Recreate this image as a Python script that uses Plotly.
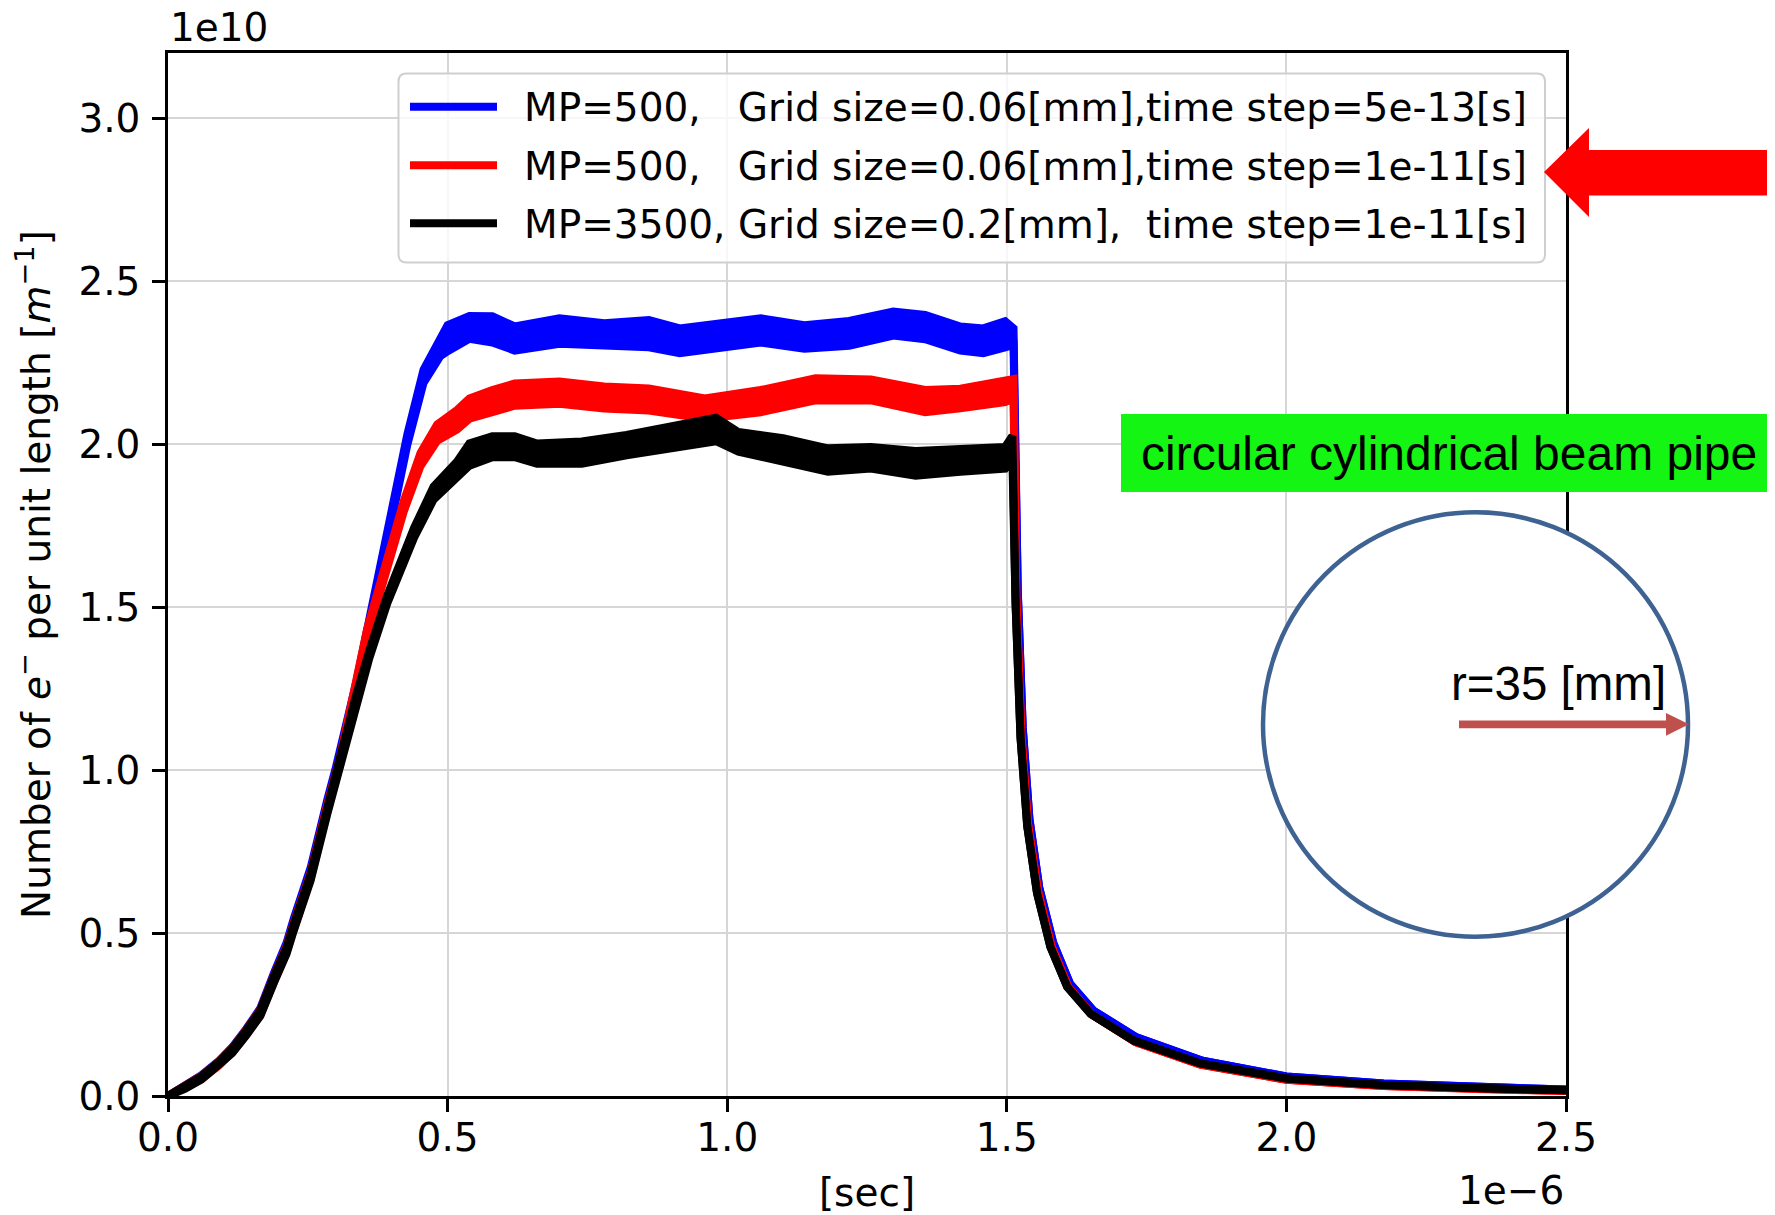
import plotly.graph_objects as go

# time in units of 1e-6 s, values in units of 1e10 m^-1
# each series: time, band centre (mid) and half-width of the fast oscillation (hw)
blue_t = [0, 0.03, 0.06, 0.09, 0.115, 0.14, 0.165, 0.19, 0.212, 0.225, 0.255, 0.285, 0.2995, 0.338,
          0.368, 0.398, 0.428, 0.457, 0.487, 0.5, 0.539, 0.58, 0.62, 0.70, 0.78, 0.86, 0.915, 1.0,
          1.06, 1.138, 1.218, 1.297, 1.354, 1.417, 1.458, 1.497, 1.512, 1.5196, 1.5285, 1.5405,
          1.558, 1.583, 1.613, 1.655, 1.732, 1.85, 2.0, 2.174, 2.353, 2.5]
blue_mid = [0, 0.028, 0.059, 0.1, 0.143, 0.198, 0.26, 0.37, 0.46, 0.535, 0.69, 0.9, 0.991, 1.267,
            1.523, 1.779, 2.014, 2.208, 2.30, 2.325, 2.358, 2.352, 2.324, 2.347, 2.337, 2.339, 2.317, 2.336,
            2.349, 2.329, 2.34, 2.37, 2.359, 2.324, 2.317, 2.337, 2.33, 1.55, 1.13, 0.85,
            0.64, 0.47, 0.345, 0.262, 0.18, 0.108, 0.06, 0.038, 0.027, 0.02]
blue_hw = [0, 0.004, 0.005, 0.006, 0.007, 0.008, 0.009, 0.01, 0.01, 0.01, 0.01, 0.01, 0.012, 0.012,
           0.012, 0.014, 0.016, 0.02, 0.03, 0.04, 0.035, 0.04, 0.037, 0.039, 0.034, 0.042, 0.038, 0.036,
           0.037, 0.036, 0.038, 0.037, 0.037, 0.037, 0.038, 0.04, 0.025, 0, 0, 0,
           0, 0, 0, 0, 0, 0, 0, 0, 0, 0]

red_t = [0, 0.03, 0.06, 0.09, 0.115, 0.14, 0.165, 0.19, 0.212, 0.225, 0.255, 0.285, 0.308, 0.356,
         0.392, 0.4217, 0.4516, 0.4814, 0.517, 0.539, 0.58, 0.62, 0.70, 0.78, 0.86, 0.96, 1.06, 1.158,
         1.257, 1.354, 1.417, 1.497, 1.512, 1.517, 1.526, 1.538, 1.556, 1.58, 1.61, 1.652, 1.73,
         1.846, 2.0, 2.174, 2.353, 2.5]
red_mid = [0, 0.027, 0.057, 0.098, 0.14, 0.196, 0.256, 0.362, 0.45, 0.522, 0.676, 0.885, 1.03, 1.42,
           1.646, 1.81, 1.953, 2.035, 2.075, 2.109, 2.132, 2.152, 2.158, 2.143, 2.137, 2.109, 2.132, 2.168,
           2.166, 2.132, 2.14, 2.163, 2.17, 1.53, 1.11, 0.835, 0.628, 0.46, 0.335, 0.25, 0.165,
           0.096, 0.05, 0.031, 0.021, 0.015]
red_hw = [0, 0.004, 0.005, 0.006, 0.007, 0.008, 0.009, 0.01, 0.01, 0.01, 0.01, 0.01, 0.012, 0.012,
          0.014, 0.016, 0.02, 0.025, 0.03, 0.031, 0.034, 0.034, 0.034, 0.034, 0.034, 0.031, 0.034, 0.034,
          0.032, 0.034, 0.03, 0.034, 0.03, 0, 0, 0, 0, 0, 0, 0, 0,
          0, 0, 0, 0, 0]

black_t = [0, 0.03, 0.06, 0.09, 0.115, 0.14, 0.165, 0.19, 0.212, 0.225, 0.255, 0.285, 0.31, 0.335,
           0.36, 0.392, 0.44, 0.475, 0.517, 0.539, 0.58, 0.62, 0.66, 0.74, 0.82, 0.90, 0.98, 1.02,
           1.10, 1.18, 1.257, 1.337, 1.417, 1.497, 1.51, 1.5156, 1.5245, 1.5365, 1.554, 1.578,
           1.608, 1.65, 1.727, 1.846, 2.0, 2.174, 2.353, 2.5]
black_mid = [0, 0.026, 0.056, 0.097, 0.139, 0.194, 0.254, 0.36, 0.446, 0.518, 0.671, 0.876, 1.045, 1.21,
             1.355, 1.523, 1.728, 1.85, 1.922, 1.968, 1.992, 1.992, 1.971, 1.974, 1.997, 2.02, 2.045, 2.007,
             1.981, 1.951, 1.958, 1.941, 1.951, 1.958, 1.99, 1.514, 1.10, 0.828, 0.623, 0.457,
             0.335, 0.252, 0.17, 0.10, 0.054, 0.034, 0.024, 0.018]
black_hw = [0, 0.004, 0.005, 0.006, 0.007, 0.008, 0.009, 0.01, 0.01, 0.01, 0.01, 0.01, 0.012, 0.012,
            0.012, 0.012, 0.015, 0.02, 0.025, 0.034, 0.032, 0.032, 0.031, 0.034, 0.031, 0.034, 0.036, 0.03,
            0.037, 0.036, 0.033, 0.038, 0.036, 0.033, 0.035, 0, 0, 0, 0, 0,
            0, 0, 0, 0, 0, 0, 0, 0]

legend_labels = [
    "MP=500,\u00a0\u00a0\u00a0Grid size=0.06[mm],time step=5e-13[s]",
    "MP=500,\u00a0\u00a0\u00a0Grid size=0.06[mm],time step=1e-11[s]",
    "MP=3500, Grid size=0.2[mm],\u00a0\u00a0time step=1e-11[s]",
]
colors = ["#0000ff", "#ff0000", "#000000"]
x_ticks = [0.0, 0.5, 1.0, 1.5, 2.0, 2.5]
y_ticks = [0.0, 0.5, 1.0, 1.5, 2.0, 2.5, 3.0]
y_title = "Number of <i>e</i><sup>\u2212</sup> per unit length [<i>m</i><sup>\u22121</sup>]"

series = [(blue_t, blue_mid, blue_hw), (red_t, red_mid, red_hw), (black_t, black_mid, black_hw)]
for t, m, h in series:
    assert len(t) == len(m) == len(h), (len(t), len(m), len(h))

# the page body has an 8px margin, so the figure is shrunk by 8px and all
# reference-pixel positions below are expressed in window pixels
OFF = 8
W, H = 1775 - OFF, 1215 - OFF
PL, PR, PT, PB = 168, 1566, 53, 1096          # plot area in window pixels
ML, MT = PL - OFF, PT - OFF
MR, MB = W - (PR - OFF), H - (PB - OFF)
PW, PH = PR - PL, PB - PT


def fx(px):
    return (px - PL) / PW


def fy(py):
    return (PB - py) / PH


fig = go.Figure()
LW = 8
for (t, m, h), c, name in zip(series, colors, legend_labels):
    lo = [a - b for a, b in zip(m, h)]
    hi = [a + b for a, b in zip(m, h)]
    fig.add_trace(go.Scatter(x=t, y=lo, mode="lines", line=dict(color=c, width=LW),
                             showlegend=False, hoverinfo="skip"))
    fig.add_trace(go.Scatter(x=t, y=hi, mode="lines", line=dict(color=c, width=LW),
                             fill="tonexty", fillcolor=c, name=name, showlegend=False))

FONT = "DejaVu Sans"
axis_common = dict(showline=True, linecolor="black", linewidth=2.5, mirror=True,
                   ticks="outside", ticklen=13, tickwidth=2.5, tickcolor="black",
                   showgrid=True, gridcolor="#d6d6d6", gridwidth=2, zeroline=False,
                   tickfont=dict(family=FONT, size=39, color="black"), tickformat=".1f")

fig.update_layout(
    width=W, height=H,
    margin=dict(l=ML, r=MR, t=MT, b=MB, autoexpand=False),
    paper_bgcolor="white", plot_bgcolor="white",
    font=dict(family=FONT, size=39, color="black"),
    showlegend=False,
    xaxis=dict(range=[0, 2.5], tickvals=x_ticks, ticklabelstandoff=-8,
               title=dict(text="[sec]", font=dict(family=FONT, size=39, color="black"), standoff=23),
               **axis_common),
    yaxis=dict(range=[0, 3.2], tickvals=y_ticks, ticklabelstandoff=4, **axis_common),
)

shapes = []
# legend box (rounded)
x0, y0, x1, y1, r = 398.5, 73.5, 1545, 262.5, 8
path = (f"M{fx(x0 + r)},{fy(y0)} L{fx(x1 - r)},{fy(y0)} Q{fx(x1)},{fy(y0)} {fx(x1)},{fy(y0 + r)} "
        f"L{fx(x1)},{fy(y1 - r)} Q{fx(x1)},{fy(y1)} {fx(x1 - r)},{fy(y1)} "
        f"L{fx(x0 + r)},{fy(y1)} Q{fx(x0)},{fy(y1)} {fx(x0)},{fy(y1 - r)} "
        f"L{fx(x0)},{fy(y0 + r)} Q{fx(x0)},{fy(y0)} {fx(x0 + r)},{fy(y0)} Z")
shapes.append(dict(type="path", path=path, xref="paper", yref="paper", layer="above",
                   fillcolor="rgba(255,255,255,0.8)", line=dict(color="#cfcfcf", width=2)))
row_y = [106.7, 165.3, 223.3]
annotations = []
for ry, c, lab in zip(row_y, colors, legend_labels):
    shapes.append(dict(type="line", xref="paper", yref="paper", x0=fx(410), x1=fx(497),
                       y0=fy(ry), y1=fy(ry), line=dict(color=c, width=8), layer="above"))
    annotations.append(dict(text=lab, xref="paper", yref="paper", x=fx(522), y=fy(ry + 1),
                            xanchor="left", yanchor="middle", showarrow=False,
                            font=dict(family=FONT, size=39, color="black")))

# big red arrow pointing at the legend
arrow = [(1544, 172), (1589, 128), (1589, 150), (1780, 150), (1780, 195.5), (1589, 195.5), (1589, 217)]
shapes.append(dict(type="path", xref="paper", yref="paper", layer="above",
                   path="M" + " L".join(f"{fx(a)},{fy(b)}" for a, b in arrow) + " Z",
                   fillcolor="#ff0000", line=dict(width=0)))
# green label box
shapes.append(dict(type="rect", xref="paper", yref="paper", layer="above",
                   x0=fx(1121), x1=fx(1780), y0=fy(414), y1=fy(492),
                   fillcolor="rgb(20,245,20)", line=dict(width=0)))
# circle (beam pipe)
shapes.append(dict(type="circle", xref="paper", yref="paper", layer="above",
                   x0=fx(1263), x1=fx(1688), y0=fy(512.3), y1=fy(936.7),
                   fillcolor="white", line=dict(color="rgb(62,98,146)", width=4.5)))
# radius arrow
shapes.append(dict(type="rect", xref="paper", yref="paper", layer="above",
                   x0=fx(1459), x1=fx(1667), y0=fy(720.5), y1=fy(728.2),
                   fillcolor="rgb(192,80,77)", line=dict(width=0)))
head = [(1666, 713), (1689, 724.3), (1666, 735.7)]
shapes.append(dict(type="path", xref="paper", yref="paper", layer="above",
                   path="M" + " L".join(f"{fx(a)},{fy(b)}" for a, b in head) + " Z",
                   fillcolor="rgb(192,80,77)", line=dict(width=0)))

ARIAL = "Liberation Sans, Arial"
annotations += [
    dict(text=y_title, xref="paper", yref="paper", x=fx(34), y=fy(575), textangle=-90,
         xanchor="center", yanchor="middle", showarrow=False,
         font=dict(family=FONT, size=39, color="black")),
    dict(text="circular cylindrical beam pipe", xref="paper", yref="paper", x=fx(1139), y=fy(453),
         xanchor="left", yanchor="middle", showarrow=False, font=dict(family=ARIAL, size=48, color="black")),
    dict(text="r=35 [mm]", xref="paper", yref="paper", x=fx(1449), y=fy(683),
         xanchor="left", yanchor="middle", showarrow=False, font=dict(family=ARIAL, size=47.5, color="black")),
    dict(text="1e10", xref="paper", yref="paper", x=0, y=1, xanchor="left", yanchor="bottom",
         yshift=1, showarrow=False, font=dict(family=FONT, size=39, color="black")),
    dict(text="1e\u22126", xref="paper", yref="paper", x=1, y=fy(1190), xanchor="right", yanchor="middle",
         showarrow=False, font=dict(family=FONT, size=39, color="black")),
    dict(text="3", xref="paper", yref="paper", x=fx(1765), y=fy(1207), xanchor="left", yanchor="middle",
         showarrow=False, font=dict(family=ARIAL, size=20, color="#333333")),
]
fig.update_layout(shapes=shapes, annotations=annotations)

fig.write_html("out.html")
